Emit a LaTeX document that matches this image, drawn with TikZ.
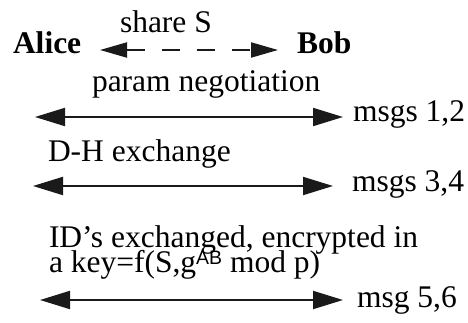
\documentclass[tikz,border=0pt]{standalone}
\usepackage{fontspec}
\setmainfont{Liberation Serif}
\setsansfont{Liberation Sans}
\usetikzlibrary{arrows.meta}
\definecolor{ink}{HTML}{1A1A1A}
\begin{document}
\begin{tikzpicture}[x=1pt,y=-1pt,
  lbl/.style={anchor=base west,inner sep=0pt,outer sep=0pt,text=black,
    font=\fontsize{31.5}{25}\selectfont},
  who/.style={lbl,font=\fontsize{31.5}{25}\selectfont\bfseries},
  msg/.style={draw=ink,line width=2pt,{Triangle[length=30pt,width=18pt]}-{Triangle[length=30pt,width=18pt]}},
  dmsg/.style={draw=ink,line width=2pt,dash pattern=on 18pt off 17pt,
    {Triangle[length=27pt,width=15pt]}-{Triangle[length=27pt,width=15pt]}}]
\useasboundingbox (0,0) rectangle (468,323);
\node[who] (alice) at (13,54) {Alice};
\node[who] (bob) at (297,54) {Bob};
\node[lbl] (share) at (120,33) {share S};
\coordinate (s1) at (100,50);
\coordinate (s2) at (278,50);
\draw[dmsg] (s1) -- (s2);
\node[lbl] (param) at (92,92) {param negotiation};
\coordinate (a1) at (35,117);
\coordinate (a2) at (343,117);
\draw[msg] (a1) -- (a2);
\node[lbl] (m12) at (353,122) {msgs 1,2};
\node[lbl] (dh) at (48,162) {D-H exchange};
\coordinate (b1) at (33,186);
\coordinate (b2) at (333,186);
\draw[msg] (b1) -- (b2);
\node[lbl] (m34) at (352,192) {msgs 3,4};
\node[lbl] (ids) at (49,247) {ID’s exchanged, encrypted in};
\node[lbl] (key) at (49,272) {a key=f(S,g\raisebox{8pt}{\sffamily\fontsize{19.5}{19.5}\selectfont AB} mod p)};
\coordinate (c1) at (40,300);
\coordinate (c2) at (343,300);
\draw[msg] (c1) -- (c2);
\node[lbl] (m56) at (357,307) {msg 5,6};
\end{tikzpicture}
\end{document}
